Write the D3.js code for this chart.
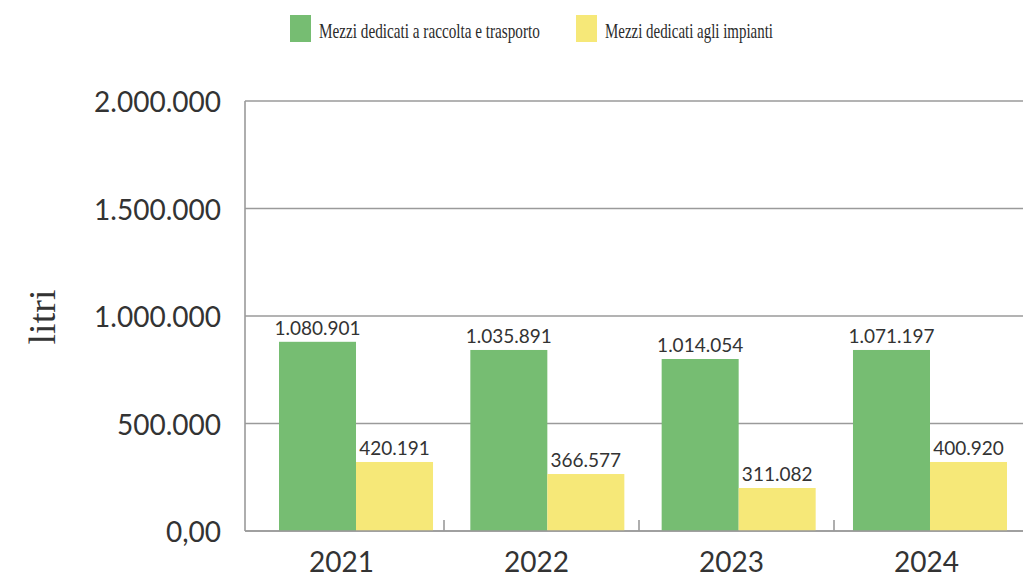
<!DOCTYPE html>
<html>
<head>
<meta charset="utf-8">
<script src="https://cdn.jsdelivr.net/npm/d3@7"></script>
<style>
  html, body { margin: 0; padding: 0; background: #fff; }
  svg { display: block; }
</style>
</head>
<body>
<div id="chart"></div>
<script>
// --- data ---
const years = ["2021", "2022", "2023", "2024"];
const seriesNames = ["Mezzi dedicati a raccolta e trasporto", "Mezzi dedicati agli impianti"];
// values printed on the labels
const raccoltaValues = [1080901, 1035891, 1014054, 1071197];
const impiantiValues = [420191, 366577, 311082, 400920];
// bar heights as drawn in the source chart (its bars are shorter than their labels)
const raccoltaBars = [880000, 842000, 800000, 842000];
const impiantiBars = [321000, 265000, 200000, 321000];
const yTicks = [0, 500000, 1000000, 1500000, 2000000];
const yTickLabels = ["0,00", "500.000", "1.000.000", "1.500.000", "2.000.000"];
const colors = ["#76bd72", "#f6e878"];

const width = 1023, height = 577;
const itFormat = d3.formatLocale({ decimal: ",", thousands: ".", grouping: [3], currency: ["€", ""] }).format(",d");

const svg = d3.select("#chart").append("svg")
    .attr("width", width)
    .attr("height", height);

const axisX = 245, baseY = 531, topY = 101;

const y = d3.scaleLinear().domain([0, 2000000]).range([baseY, topY]);
// bar groups
const x = d3.scaleBand().domain(years).range([279, 1007]).paddingInner(0.195).paddingOuter(0);
const xs = d3.scaleBand().domain([0, 1]).range([0, x.bandwidth()]);
// category slots for the axis ticks and year labels
const xAxisBand = d3.scaleBand().domain(years).range([249, 1029]);

// gridlines
svg.append("g").selectAll("line")
    .data(yTicks)
    .enter().append("line")
    .attr("x1", axisX).attr("x2", width)
    .attr("y1", d => y(d)).attr("y2", d => y(d))
    .attr("stroke", "#9a9a9a")
    .attr("stroke-width", 1.6);

// y tick labels
svg.append("g").selectAll("text")
    .data(yTicks)
    .enter().append("text")
    .attr("x", 221)
    .attr("y", d => y(d) + 11)
    .attr("text-anchor", "end")
    .attr("font-family", "Lato, sans-serif")
    .attr("font-size", 28)
    .attr("fill", "#333")
    .text((d, i) => yTickLabels[i]);

// bars
const rows = years.map((yr, i) => ({
    year: yr,
    bars: [
        { s: 0, drawn: raccoltaBars[i], value: raccoltaValues[i] },
        { s: 1, drawn: impiantiBars[i], value: impiantiValues[i] }
    ]
}));

const group = svg.append("g").selectAll("g")
    .data(rows)
    .enter().append("g")
    .attr("transform", d => `translate(${x(d.year)},0)`);

group.selectAll("rect")
    .data(d => d.bars)
    .enter().append("rect")
    .attr("x", d => xs(d.s))
    .attr("y", d => y(d.drawn))
    .attr("width", xs.bandwidth())
    .attr("height", d => baseY - y(d.drawn))
    .attr("fill", d => colors[d.s]);

group.selectAll("text")
    .data(d => d.bars)
    .enter().append("text")
    .attr("x", d => xs(d.s) + xs.bandwidth() / 2)
    .attr("y", d => y(d.drawn) - 7)
    .attr("text-anchor", "middle")
    .attr("font-family", "Lato, sans-serif")
    .attr("font-size", 19)
    .attr("fill", "#333")
    .text(d => itFormat(d.value));

// axis lines
svg.append("line")
    .attr("x1", axisX).attr("x2", axisX)
    .attr("y1", topY).attr("y2", baseY)
    .attr("stroke", "#9a9a9a").attr("stroke-width", 1.6);
svg.append("line")
    .attr("x1", axisX).attr("x2", width)
    .attr("y1", baseY).attr("y2", baseY)
    .attr("stroke", "#9a9a9a").attr("stroke-width", 1.6);

// small ticks between year slots
svg.append("g").selectAll("line")
    .data(years.slice(1))
    .enter().append("line")
    .attr("x1", d => xAxisBand(d))
    .attr("x2", d => xAxisBand(d))
    .attr("y1", baseY - 11).attr("y2", baseY)
    .attr("stroke", "#9a9a9a").attr("stroke-width", 1.6);

// year labels
svg.append("g").selectAll("text")
    .data(years)
    .enter().append("text")
    .attr("x", d => xAxisBand(d) + xAxisBand.bandwidth() / 2 - 5)
    .attr("y", 572)
    .attr("text-anchor", "middle")
    .attr("font-family", "Lato, sans-serif")
    .attr("font-size", 28)
    .attr("fill", "#333")
    .text(d => d);

// y title
svg.append("text")
    .attr("transform", "translate(55,317) rotate(-90)")
    .attr("text-anchor", "middle")
    .attr("font-family", "'Liberation Serif', serif")
    .attr("font-size", 38)
    .attr("fill", "#333")
    .text("litri");

// legend (condensed look: squeeze the serif text horizontally)
const legendX = [290, 576];
const legendTextLen = [221, 168];
const legend = svg.append("g").selectAll("g")
    .data(seriesNames)
    .enter().append("g")
    .attr("transform", (d, i) => `translate(${legendX[i]},15)`);

legend.append("rect")
    .attr("width", 21)
    .attr("height", 27)
    .attr("fill", (d, i) => colors[i]);

legend.append("text")
    .attr("font-family", "'Liberation Serif', serif")
    .attr("font-size", 22)
    .attr("fill", "#2b2b2b")
    .text(d => d)
    .each(function(d, i) {
        const k = legendTextLen[i] / this.getComputedTextLength();
        d3.select(this).attr("transform", `translate(29,23) scale(${k},1)`);
    });
</script>
</body>
</html>
